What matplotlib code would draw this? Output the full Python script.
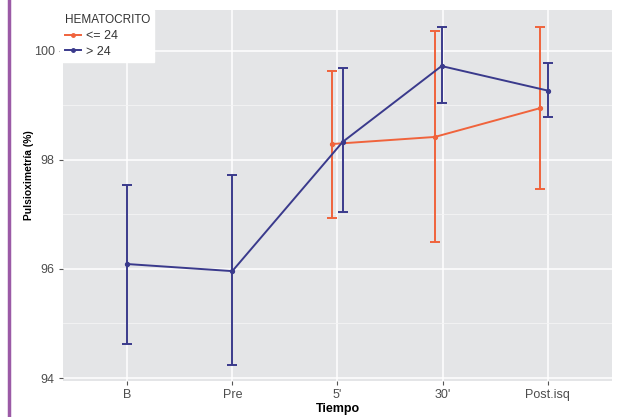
import matplotlib.pyplot as plt
from matplotlib.lines import Line2D

plt.rcParams['font.family'] = ['Liberation Sans', 'DejaVu Sans']

# tiempos de medida
tiempos = ['B', 'Pre', "5'", "30'", 'Post.isq']

# HEMATOCRITO <= 24 (solo desde 5')
bajo_idx = [2, 3, 4]
bajo_media = [98.29, 98.42, 98.95]
bajo_inf = [96.94, 96.50, 97.47]
bajo_sup = [99.63, 100.37, 100.44]

# HEMATOCRITO > 24
alto_idx = [0, 1, 2, 3, 4]
alto_media = [96.09, 95.96, 98.33, 99.72, 99.27]
alto_inf = [94.63, 94.23, 97.04, 99.05, 98.79]
alto_sup = [97.54, 97.72, 99.68, 100.44, 99.78]

# desplazamiento horizontal de cada grupo
desp_bajo = [-0.055, -0.075, -0.07]
desp_alto = [0.0, 0.0, 0.05, -0.01, 0.0]

naranja = '#F0633C'
azul = '#3A3A8C'

fig = plt.figure(figsize=(6.31, 4.17), dpi=100)
ax = fig.add_axes([0.0998, 0.0863, 0.870, 0.890])
ax.set_facecolor('#E4E5E7')

def serie(idx, media, inf, sup, desp, color):
    x = [i + d for i, d in zip(idx, desp)]
    err = [[m - lo for m, lo in zip(media, inf)], [hi - m for m, hi in zip(media, sup)]]
    ax.errorbar(x, media, yerr=err, color=color, lw=1.4, capsize=3.8,
                capthick=1.4, marker='o', ms=2.8, zorder=3)

serie(bajo_idx, bajo_media, bajo_inf, bajo_sup, desp_bajo, naranja)
serie(alto_idx, alto_media, alto_inf, alto_sup, desp_alto, azul)

ax.set_xlim(-0.61, 4.61)
ax.set_ylim(93.945, 100.75)
ax.set_xticks(range(len(tiempos)))
ax.set_xticklabels(tiempos)
ax.set_yticks([94, 96, 98, 100])
ax.set_yticks([95, 97, 99], minor=True)
ax.grid(True, which='major', color='white', lw=1.1)
ax.grid(True, which='minor', axis='y', color='#F4F4F5', lw=0.6)
ax.set_axisbelow(True)
for s in ax.spines.values():
    s.set_visible(False)
ax.tick_params(which='major', length=3, color='#555555', labelcolor='#4D4D4D',
               labelsize=9, pad=3)
ax.tick_params(which='minor', length=0)
ax.set_xlabel('Tiempo', fontsize=9, fontweight='bold', labelpad=1)
ax.set_ylabel('Pulsioximetría (%)', fontsize=7.4, fontweight='bold')
ax.yaxis.set_label_coords(-0.052, 0.555)

# leyenda dentro del panel, arriba a la izquierda
handles = [Line2D([], [], color=naranja, lw=1.4, marker='o', ms=2.5),
           Line2D([], [], color=azul, lw=1.4, marker='o', ms=2.5)]
leg = ax.legend(handles, ['<= 24', '> 24'], title='HEMATOCRITO', loc='upper left',
                bbox_to_anchor=(-0.005, 1.0), frameon=True, fancybox=False,
                framealpha=1, edgecolor='white', fontsize=9, title_fontsize=8.5,
                handlelength=1.3, handletextpad=0.4, labelspacing=0.3,
                borderpad=0.35, borderaxespad=0)
leg._legend_box.align = 'left'
leg.get_title().set_color('#333333')
for t in leg.get_texts():
    t.set_color('#333333')

# borde lateral morado
fig.add_artist(Line2D([0.0143, 0.0143], [0, 1], transform=fig.transFigure,
                      color='#9B5AA6', lw=2.5))

fig.savefig('out.png', dpi=100)
